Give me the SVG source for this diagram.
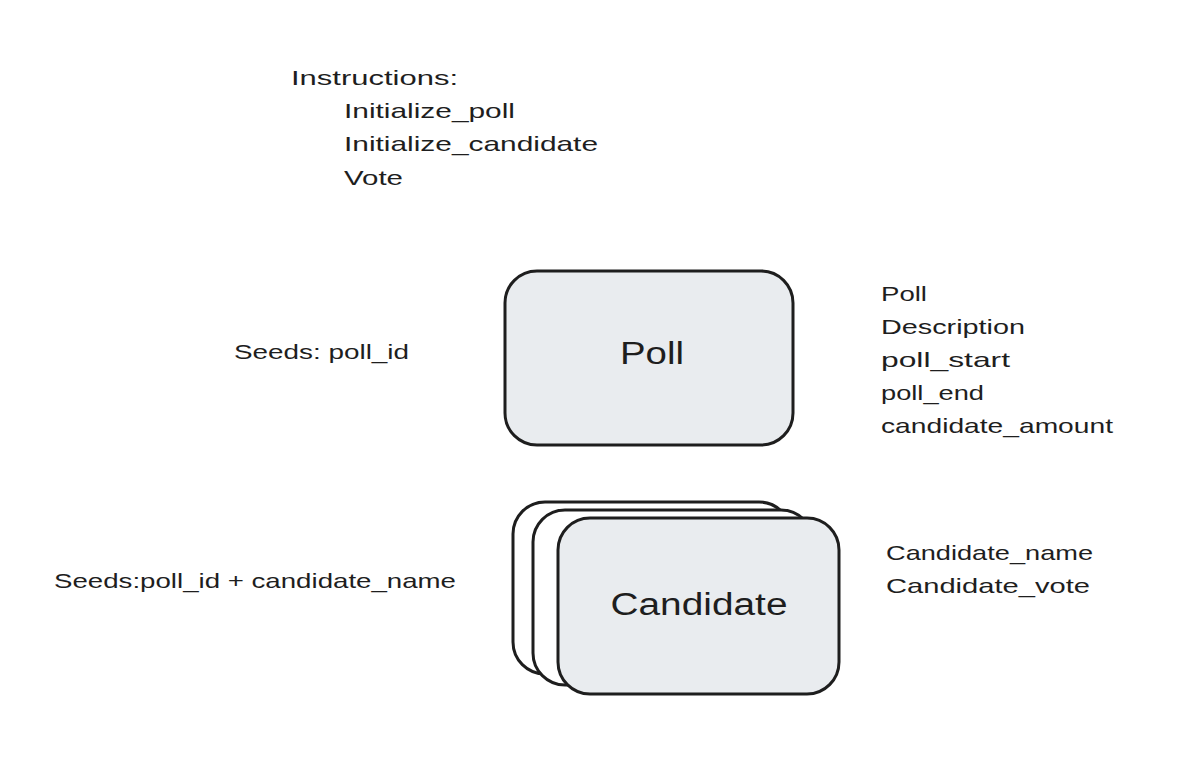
<svg xmlns="http://www.w3.org/2000/svg" width="1200" height="770" viewBox="0 0 1200 770">
<style>
.t{font-family:"Liberation Sans",Arial,sans-serif;font-size:21px;fill:#1e1e1e}
.big{font-family:"Liberation Sans",Arial,sans-serif;font-size:31px;fill:#1e1e1e;text-anchor:middle}
.box{fill:#e9ecef;stroke:#1e1e1e;stroke-width:3}
.back{fill:#ffffff;stroke:#1e1e1e;stroke-width:3}
</style>
<rect width="1200" height="770" fill="#ffffff"/>
<g id="instructions">
<text class="t" x="291" y="85" textLength="167" lengthAdjust="spacingAndGlyphs">Instructions:</text>
<text class="t" x="344" y="118" textLength="171" lengthAdjust="spacingAndGlyphs">Initialize_poll</text>
<text class="t" x="344" y="151" textLength="254" lengthAdjust="spacingAndGlyphs">Initialize_candidate</text>
<text class="t" x="344" y="185" textLength="59" lengthAdjust="spacingAndGlyphs">Vote</text>
</g>
<g id="poll">
<rect class="box" x="505" y="271" width="288" height="174" rx="32"/>
<text class="big" x="652" y="364" textLength="64" lengthAdjust="spacingAndGlyphs">Poll</text>
</g>
<g id="poll-fields">
<text class="t" x="881" y="301" textLength="46" lengthAdjust="spacingAndGlyphs">Poll</text>
<text class="t" x="881" y="334" textLength="144" lengthAdjust="spacingAndGlyphs">Description</text>
<text class="t" x="881" y="367" textLength="129" lengthAdjust="spacingAndGlyphs">poll_start</text>
<text class="t" x="881" y="400" textLength="103" lengthAdjust="spacingAndGlyphs">poll_end</text>
<text class="t" x="881" y="433" textLength="232" lengthAdjust="spacingAndGlyphs">candidate_amount</text>
</g>
<g id="poll-seeds">
<text class="t" x="234" y="359" textLength="175" lengthAdjust="spacingAndGlyphs">Seeds: poll_id</text>
</g>
<g id="candidate">
<rect class="back" x="513" y="502" width="278" height="172" rx="32"/>
<rect class="back" x="533" y="510" width="280" height="175" rx="32"/>
<rect class="box" x="558" y="518" width="281" height="176" rx="32"/>
<text class="big" x="699" y="615" textLength="177" lengthAdjust="spacingAndGlyphs">Candidate</text>
</g>
<g id="candidate-fields">
<text class="t" x="886" y="560" textLength="207" lengthAdjust="spacingAndGlyphs">Candidate_name</text>
<text class="t" x="886" y="593" textLength="204" lengthAdjust="spacingAndGlyphs">Candidate_vote</text>
</g>
<g id="candidate-seeds">
<text class="t" x="54" y="588" textLength="402" lengthAdjust="spacingAndGlyphs">Seeds:poll_id + candidate_name</text>
</g>
<g id="connectors"></g>
</svg>
